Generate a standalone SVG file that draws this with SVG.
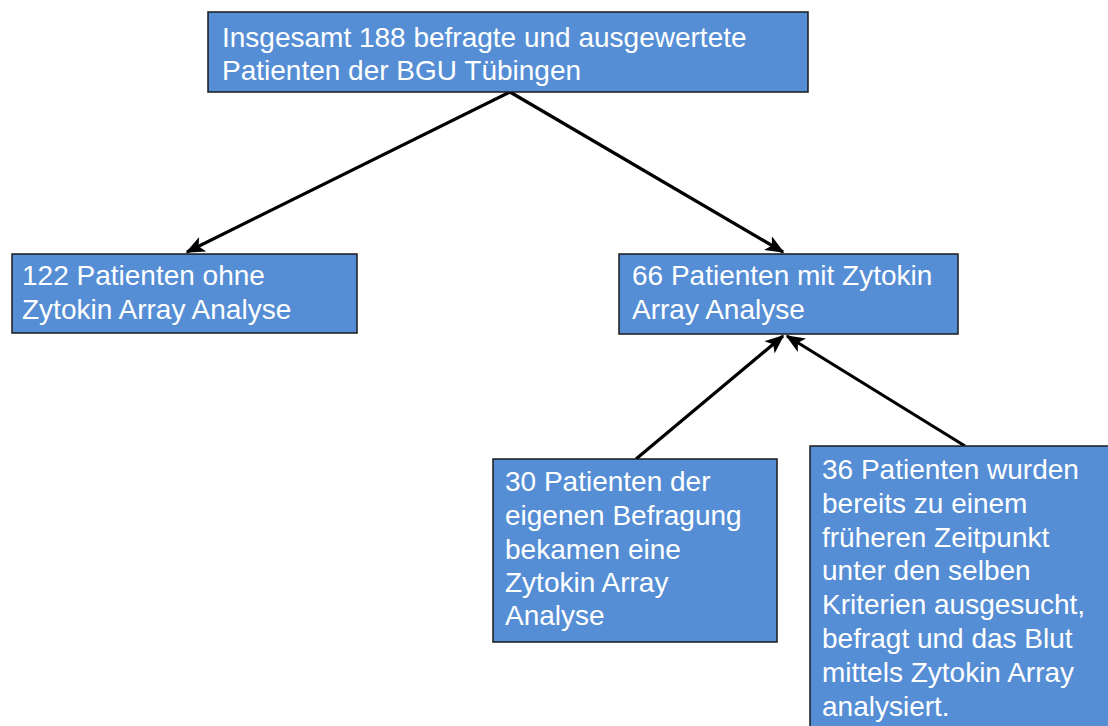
<svg xmlns="http://www.w3.org/2000/svg" width="1108" height="726" viewBox="0 0 1108 726">
<defs>
<marker id="ah" viewBox="0 0 12 10" refX="11" refY="5" markerWidth="6" markerHeight="5" markerUnits="strokeWidth" orient="auto">
<path d="M0,0 L12,5 L0,10 L3,5 Z" fill="#000"/>
</marker>
<style>
.box{fill:#558ED5;stroke:#1a1a1a;stroke-width:1.5}
.t{font-family:"Liberation Sans",Arial,sans-serif;font-size:28px;fill:#fff}
.c{stroke:#000;stroke-width:3.2;fill:none;marker-end:url(#ah)}
</style>
</defs>
<rect width="1108" height="726" fill="#fff"/>
<g id="connectors">
<line class="c" x1="510" y1="92" x2="187" y2="252"/>
<line class="c" x1="510" y1="92" x2="783" y2="252"/>
<line class="c" x1="636" y1="459" x2="783" y2="336"/>
<line class="c" x1="965" y1="446" x2="787" y2="336"/>
</g>
<g id="n_top">
<rect class="box" x="208" y="12" width="600" height="80"/>
<text class="t"><tspan x="222" y="47">Insgesamt 188 befragte und ausgewertete</tspan><tspan x="222" y="80">Patienten der BGU Tübingen</tspan></text>
</g>
<g id="n_ohne">
<rect class="box" x="12" y="254" width="345" height="79"/>
<text class="t"><tspan x="22" y="285">122 Patienten ohne</tspan><tspan x="22" y="319">Zytokin Array Analyse</tspan></text>
</g>
<g id="n_mit">
<rect class="box" x="619" y="254" width="339" height="80"/>
<text class="t"><tspan x="632" y="285">66 Patienten mit Zytokin</tspan><tspan x="632" y="319">Array Analyse</tspan></text>
</g>
<g id="n_30">
<rect class="box" x="493" y="459" width="284" height="183"/>
<text class="t"><tspan x="505" y="491">30 Patienten der</tspan><tspan x="505" y="525">eigenen Befragung</tspan><tspan x="505" y="559">bekamen eine</tspan><tspan x="505" y="592">Zytokin Array</tspan><tspan x="505" y="625">Analyse</tspan></text>
</g>
<g id="n_36">
<rect class="box" x="810" y="446" width="305" height="290"/>
<text class="t"><tspan x="822" y="479">36 Patienten wurden</tspan><tspan x="822" y="513">bereits zu einem</tspan><tspan x="822" y="547">früheren Zeitpunkt</tspan><tspan x="822" y="580">unter den selben</tspan><tspan x="822" y="614">Kriterien ausgesucht,</tspan><tspan x="822" y="648">befragt und das Blut</tspan><tspan x="822" y="682">mittels Zytokin Array</tspan><tspan x="822" y="716">analysiert.</tspan></text>
</g>
</svg>
